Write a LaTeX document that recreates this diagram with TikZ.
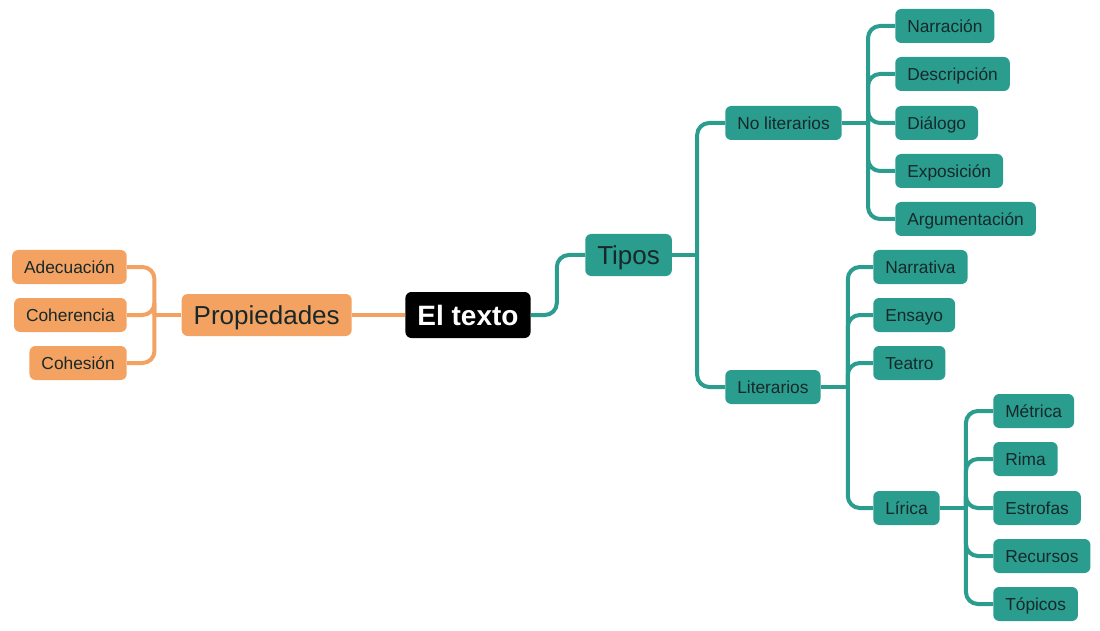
\documentclass[tikz,border=0pt]{standalone}
\usepackage{fontspec}
\setmainfont{Liberation Sans}
\definecolor{teal1}{HTML}{2A9D8F}
\definecolor{orng}{HTML}{F4A261}
\definecolor{txt}{HTML}{17282A}
\begin{document}
\begin{tikzpicture}[x=0.75pt,y=-0.75pt,
  box/.style={rounded corners=4.5pt,inner xsep=9pt,inner ysep=0pt,text=txt,font=\fontsize{13}{15}\selectfont,minimum height=25.5pt,text height=9.3pt,text depth=0pt},
  tbox/.style={box,fill=teal1},
  obox/.style={box,fill=orng},
  big/.style={font=\fontsize{19.5}{22}\selectfont,minimum height=31.5pt,text height=14pt},
  tconn/.style={draw=teal1,line width=3pt,rounded corners=9pt},
  oconn/.style={draw=orng,line width=3pt,rounded corners=9pt}]
\useasboundingbox (0,0) rectangle (1100,631);
% root
\node[box,fill=black,text=white,font=\fontsize{21}{24}\selectfont\bfseries,minimum height=34.5pt,text height=15pt,inner xsep=9pt] (root) at (468,315) {El texto};
% left
\node[obox,big,anchor=east] (prop) at (352,315) {Propiedades};
\node[obox,anchor=east] (ade) at (127,267) {Adecuación};
\node[obox,anchor=east] (coh) at (127,315) {Coherencia};
\node[obox,anchor=east] (coe) at (127,363) {Cohesión};
% right
\node[tbox,big,anchor=west] (tipos) at (585,255) {Tipos};
\node[tbox,anchor=west] (nolit) at (725,123) {No literarios};
\node[tbox,anchor=west] (lit) at (725,387) {Literarios};
\node[tbox,anchor=west] (narr) at (895,26) {Narración};
\node[tbox,anchor=west] (desc) at (895,74) {Descripción};
\node[tbox,anchor=west] (dial) at (895,123) {Diálogo};
\node[tbox,anchor=west] (expo) at (895,171) {Exposición};
\node[tbox,anchor=west] (argu) at (895,219) {Argumentación};
\node[tbox,anchor=west] (narra) at (873,267) {Narrativa};
\node[tbox,anchor=west] (ensa) at (873,315) {Ensayo};
\node[tbox,anchor=west] (teat) at (873,363) {Teatro};
\node[tbox,anchor=west] (liri) at (873,508) {Lírica};
\node[tbox,anchor=west] (metr) at (993,411) {Métrica};
\node[tbox,anchor=west] (rima) at (993,459) {Rima};
\node[tbox,anchor=west] (estr) at (993,508) {Estrofas};
\node[tbox,anchor=west] (recu) at (993,556) {Recursos};
\node[tbox,anchor=west] (topi) at (993,604) {Tópicos};
% connectors
\draw[oconn] (root.west) -- (prop.east);
\draw[oconn] (prop.west) -- ++(-27,0);
\foreach \c in {ade,coh,coe}
  \draw[oconn] (prop.west) ++(-27,0) |- (\c.east);
\draw[tconn] (root.east) -- ++(26,0) |- (tipos.west);
\draw[tconn] (tipos.east) -- ++(25,0);
\foreach \c in {nolit,lit}
  \draw[tconn] (tipos.east) ++(25,0) |- (\c.west);
\draw[tconn] (nolit.east) -- ++(26,0);
\foreach \c in {narr,desc,dial,expo,argu}
  \draw[tconn] (nolit.east) ++(26,0) |- (\c.west);
\draw[tconn] (lit.east) -- ++(27,0);
\foreach \c in {narra,ensa,teat,liri}
  \draw[tconn] (lit.east) ++(27,0) |- (\c.west);
\draw[tconn] (liri.east) -- ++(26,0);
\foreach \c in {metr,rima,estr,recu,topi}
  \draw[tconn] (liri.east) ++(26,0) |- (\c.west);
\end{tikzpicture}
\end{document}
